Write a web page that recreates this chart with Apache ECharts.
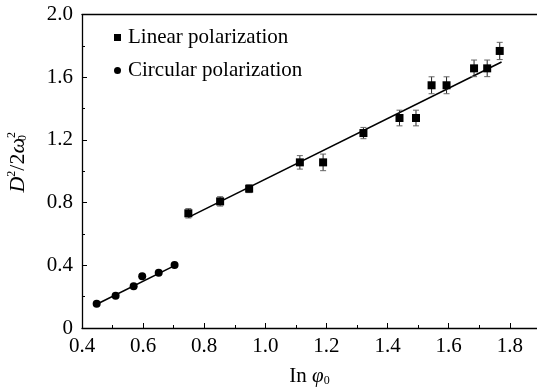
<!DOCTYPE html>
<html>
<head>
<meta charset="utf-8">
<script src="https://cdn.jsdelivr.net/npm/echarts@6/dist/echarts.min.js"></script>
<style>
  html, body { margin: 0; padding: 0; background: #fff; }
  #chart { width: 537px; height: 388px; }
</style>
</head>
<body>
<div id="chart"></div>
<script>
// linear polarization points (ln phi0, D^2/2w0^2) and error half-widths
const linearX = [0.748, 0.852, 0.947, 1.113, 1.189, 1.321, 1.439, 1.493, 1.544, 1.593, 1.683, 1.726, 1.767]
const linearY = [0.732, 0.808, 0.889, 1.057, 1.057, 1.244, 1.340, 1.340, 1.549, 1.549, 1.657, 1.657, 1.768]
const linearErr = [0.03, 0.03, 0.025, 0.043, 0.053, 0.036, 0.05, 0.05, 0.054, 0.054, 0.053, 0.053, 0.055]

// circular polarization points
const circularX = [0.448, 0.510, 0.569, 0.597, 0.651, 0.703]
const circularY = [0.155, 0.206, 0.266, 0.330, 0.353, 0.402]

// fit lines (end points)
const linearFitX = [0.748, 1.773]
const linearFitY = [0.706, 1.697]
const circularFitX = [0.448, 0.703]
const circularFitY = [0.151, 0.398]

const xTicks = [0.4, 0.6, 0.8, 1.0, 1.2, 1.4, 1.6, 1.8]
const yTicks = [0, 0.4, 0.8, 1.2, 1.6, 2.0]

const zip = (xs, ys) => xs.map((x, i) => [x, ys[i]])
const font = 'Liberation Serif'

const chart = echarts.init(document.getElementById('chart'))

chart.setOption({
  animation: false,
  textStyle: { fontFamily: font, color: '#000' },
  grid: { left: 82, right: 0, top: 14.6, bottom: 60, outerBoundsMode: 'none' },
  legend: {
    orient: 'vertical',
    left: 109,
    top: 22,
    itemWidth: 7,
    itemHeight: 7,
    itemGap: 12,
    textStyle: { fontFamily: font, fontSize: 21, color: '#000', padding: [0, 0, 0, 2] },
    data: [
      { name: 'Linear polarization', icon: 'rect' },
      { name: 'Circular polarization', icon: 'circle' },
    ],
  },
  xAxis: [
    {
      type: 'value',
      min: 0.4,
      max: 1.889,
      interval: 0.2,
      name: '{n|In }{p|φ}{s|0}',
      nameLocation: 'middle',
      nameGap: 37,
      nameTextStyle: {
        rich: {
          n: { fontFamily: font, fontSize: 21, color: '#000' },
          p: { fontFamily: font, fontSize: 21, fontStyle: 'italic', color: '#000' },
          s: { fontFamily: font, fontSize: 12, color: '#000', padding: [10, 0, 0, 0] },
        },
      },
      axisLine: { lineStyle: { color: '#000', width: 1.3 } },
      axisTick: { inside: true, length: 5, lineStyle: { color: '#000' } },
      minorTick: { show: true, splitNumber: 2, length: 3, lineStyle: { color: '#000' } },
      splitLine: { show: false },
      axisLabel: {
        fontFamily: font,
        fontSize: 21,
        color: '#000',
        margin: 8,
        showMaxLabel: false,
        formatter: (v) => {
          const t = xTicks.find((k) => Math.abs(k - v) < 1e-6)
          return t === undefined ? '' : t.toFixed(1)
        },
      },
    },
    {
      type: 'value',
      position: 'top',
      min: 0.4,
      max: 1.889,
      axisLine: { show: true, lineStyle: { color: '#000', width: 1.3 } },
      axisTick: { show: false },
      axisLabel: { show: false },
      splitLine: { show: false },
    },
  ],
  yAxis: {
    type: 'value',
    min: 0,
    max: 2,
    interval: 0.4,
    name: '{d|D}{sup|2}{n|/2}{w|ω}{sub|0}{sup|2}',
    nameLocation: 'middle',
    nameRotate: 90,
    nameGap: 52,
    nameTextStyle: {
      padding: [0, 0, 0, 18],
      rich: {
        d: { fontFamily: font, fontSize: 22, fontStyle: 'italic', color: '#000' },
        n: { fontFamily: font, fontSize: 22, color: '#000' },
        w: { fontFamily: font, fontSize: 22, fontStyle: 'italic', color: '#000' },
        sup: { fontFamily: font, fontSize: 12, color: '#000', padding: [0, 0, 12, 0] },
        sub: { fontFamily: font, fontSize: 12, color: '#000', padding: [10, 0, 0, 0], width: 0.1 },
      },
    },
    axisLine: { show: true, lineStyle: { color: '#000', width: 1.3 } },
    axisTick: { inside: true, length: 5, lineStyle: { color: '#000' } },
    minorTick: { show: true, splitNumber: 2, length: 3, lineStyle: { color: '#000' } },
    splitLine: { show: false },
    axisLabel: {
      fontFamily: font,
      fontSize: 21,
      color: '#000',
      margin: 9,
      formatter: (v) => {
        const t = yTicks.find((k) => Math.abs(k - v) < 1e-6)
        return t === undefined ? '' : (t === 0 ? '0' : t.toFixed(1))
      },
    },
  },
  series: [
    {
      name: 'Linear polarization',
      type: 'scatter',
      symbol: 'rect',
      symbolSize: 8,
      itemStyle: { color: '#000', opacity: 1 },
      data: zip(linearX, linearY),
      z: 4,
    },
    {
      name: 'Circular polarization',
      type: 'scatter',
      symbol: 'circle',
      symbolSize: 8,
      itemStyle: { color: '#000', opacity: 1 },
      data: zip(circularX, circularY),
      z: 4,
    },
    {
      // error bars
      type: 'custom',
      silent: true,
      data: linearX.map((x, i) => [x, linearY[i] - linearErr[i], linearY[i] + linearErr[i]]),
      renderItem: (params, api) => {
        const lo = api.coord([api.value(0), api.value(1)])
        const hi = api.coord([api.value(0), api.value(2)])
        const cap = 3
        const style = { stroke: '#222', lineWidth: 1 }
        return {
          type: 'group',
          children: [
            { type: 'line', shape: { x1: lo[0], y1: lo[1], x2: hi[0], y2: hi[1] }, style },
            { type: 'line', shape: { x1: lo[0] - cap, y1: lo[1], x2: lo[0] + cap, y2: lo[1] }, style: { stroke: '#666', lineWidth: 1 } },
            { type: 'line', shape: { x1: hi[0] - cap, y1: hi[1], x2: hi[0] + cap, y2: hi[1] }, style: { stroke: '#666', lineWidth: 1 } },
          ],
        }
      },
      encode: { x: 0, y: [1, 2] },
      z: 3,
    },
    {
      type: 'line',
      data: zip(linearFitX, linearFitY),
      symbol: 'none',
      lineStyle: { color: '#000', width: 1.6 },
      z: 2,
    },
    {
      type: 'line',
      data: zip(circularFitX, circularFitY),
      symbol: 'none',
      lineStyle: { color: '#000', width: 1.6 },
      z: 2,
    },
  ],
})
</script>
</body>
</html>
